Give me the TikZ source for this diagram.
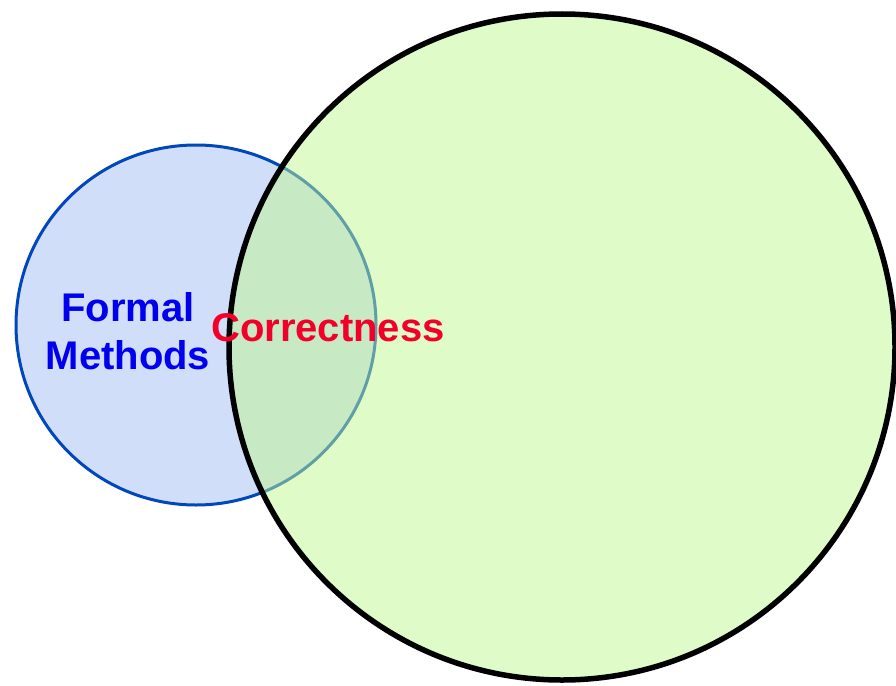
\documentclass[tikz,border=0pt]{standalone}
\usepackage{fontspec}
\setmainfont{Liberation Sans}
\definecolor{fmfill}{RGB}{208,222,250}
\definecolor{fmline}{RGB}{0,71,187}
\definecolor{corfill}{RGB}{191,247,145}
\definecolor{fmtext}{RGB}{0,0,238}
\definecolor{cortext}{RGB}{242,0,42}
\begin{document}
\begin{tikzpicture}[x=1pt,y=-1pt,
    label/.style={font=\fontsize{40}{48}\selectfont\bfseries,align=center,inner sep=0pt}]
    \useasboundingbox (0,0) rectangle (896,685);
    \draw[line width=3pt,fmline,fill=fmfill] (196,325) circle[radius=180pt];
    \draw[line width=5.5pt,fill=corfill,fill opacity=0.5] (562,347) circle[radius=333pt];
    \node[label,text=fmtext,anchor=base] (fm) at (128,369) {Formal\\Methods};
    \node[label,text=cortext,anchor=base] (cor) at (328,341) {Correctness};
\end{tikzpicture}
\end{document}
